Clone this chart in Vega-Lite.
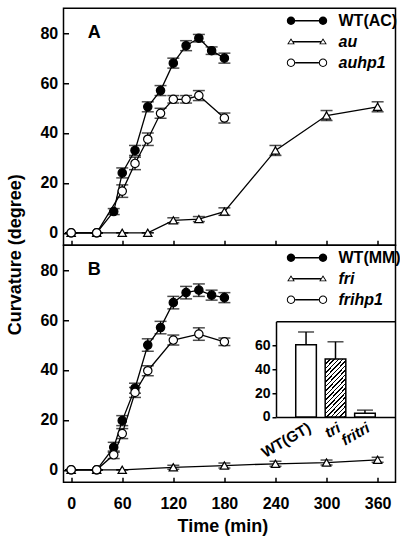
{
 "$schema": "https://vega.github.io/schema/vega-lite/v6.json",
 "padding": {"left": 5.5, "top": 7.25, "right": 0, "bottom": 0},
 "config": {
  "font": "Liberation Sans",
  "view": {"stroke": "black", "strokeWidth": 1.5},
  "axis": {"grid": false, "domain": false, "tickColor": "black", "tickWidth": 1.5, "labelColor": "black", "labelFontWeight": "bold", "titleColor": "black", "titleFontWeight": "bold", "domainColor": "black", "domainWidth": 1.5}
 },
 "datasets": {
  "series": [
   {"p":"A","g":"WT(AC)","t":0,"v":0,"e":0},{"p":"A","g":"WT(AC)","t":30,"v":0,"e":0},{"p":"A","g":"WT(AC)","t":50,"v":8.5,"e":1.2},{"p":"A","g":"WT(AC)","t":60,"v":24,"e":2},{"p":"A","g":"WT(AC)","t":75,"v":33,"e":2},{"p":"A","g":"WT(AC)","t":90,"v":50.5,"e":2},{"p":"A","g":"WT(AC)","t":105,"v":57,"e":2},{"p":"A","g":"WT(AC)","t":120,"v":68,"e":2},{"p":"A","g":"WT(AC)","t":135,"v":75,"e":2},{"p":"A","g":"WT(AC)","t":150,"v":78,"e":1.5},{"p":"A","g":"WT(AC)","t":165,"v":73,"e":1.5},{"p":"A","g":"WT(AC)","t":180,"v":70,"e":2},
   {"p":"A","g":"au","t":0,"v":0,"e":0},{"p":"A","g":"au","t":30,"v":0,"e":0},{"p":"A","g":"au","t":60,"v":0,"e":0},{"p":"A","g":"au","t":90,"v":0,"e":0},{"p":"A","g":"au","t":120,"v":5,"e":1},{"p":"A","g":"au","t":150,"v":5.5,"e":1},{"p":"A","g":"au","t":180,"v":8.5,"e":1.5},{"p":"A","g":"au","t":240,"v":33,"e":2},{"p":"A","g":"au","t":300,"v":47,"e":2},{"p":"A","g":"au","t":360,"v":50.5,"e":2},
   {"p":"A","g":"auhp1","t":0,"v":0,"e":0},{"p":"A","g":"auhp1","t":30,"v":0,"e":0},{"p":"A","g":"auhp1","t":60,"v":16.7,"e":2.5},{"p":"A","g":"auhp1","t":75,"v":27.8,"e":2.5},{"p":"A","g":"auhp1","t":90,"v":37.5,"e":2.5},{"p":"A","g":"auhp1","t":105,"v":47.9,"e":2},{"p":"A","g":"auhp1","t":120,"v":53.5,"e":1.5},{"p":"A","g":"auhp1","t":135,"v":53.5,"e":1.5},{"p":"A","g":"auhp1","t":150,"v":55,"e":2},{"p":"A","g":"auhp1","t":180,"v":46,"e":2},
   {"p":"B","g":"WT(MM)","t":0,"v":0,"e":0},{"p":"B","g":"WT(MM)","t":30,"v":0,"e":0},{"p":"B","g":"WT(MM)","t":50,"v":9,"e":2},{"p":"B","g":"WT(MM)","t":60,"v":19.7,"e":2},{"p":"B","g":"WT(MM)","t":75,"v":32.7,"e":2},{"p":"B","g":"WT(MM)","t":90,"v":50,"e":2.5},{"p":"B","g":"WT(MM)","t":105,"v":57,"e":2.5},{"p":"B","g":"WT(MM)","t":120,"v":67,"e":2.5},{"p":"B","g":"WT(MM)","t":135,"v":71,"e":2.5},{"p":"B","g":"WT(MM)","t":150,"v":72,"e":2.5},{"p":"B","g":"WT(MM)","t":165,"v":70,"e":2},{"p":"B","g":"WT(MM)","t":180,"v":69,"e":2},
   {"p":"B","g":"fri","t":0,"v":0,"e":0},{"p":"B","g":"fri","t":30,"v":0,"e":0},{"p":"B","g":"fri","t":60,"v":0,"e":0},{"p":"B","g":"fri","t":120,"v":1,"e":0.8},{"p":"B","g":"fri","t":180,"v":1.7,"e":1},{"p":"B","g":"fri","t":240,"v":2.4,"e":1},{"p":"B","g":"fri","t":300,"v":2.9,"e":1},{"p":"B","g":"fri","t":360,"v":4,"e":1},
   {"p":"B","g":"frihp1","t":0,"v":0,"e":0},{"p":"B","g":"frihp1","t":30,"v":0,"e":0},{"p":"B","g":"frihp1","t":50,"v":6,"e":1.5},{"p":"B","g":"frihp1","t":60,"v":14.5,"e":2},{"p":"B","g":"frihp1","t":75,"v":31,"e":2},{"p":"B","g":"frihp1","t":90,"v":39.7,"e":2},{"p":"B","g":"frihp1","t":120,"v":52,"e":2},{"p":"B","g":"frihp1","t":150,"v":54.4,"e":2.5},{"p":"B","g":"frihp1","t":180,"v":51.3,"e":1.5}
  ],
  "inset": [
   {"g":"WT(GT)","v":60.5,"e":10.6},
   {"g":"tri","v":48.5,"e":14.4},
   {"g":"fritri","v":3,"e":2.7}
  ]
 },
 "spacing": 0,
 "bounds": "flush",
 "resolve": {"scale": {"shape": "independent", "fill": "independent"}},
 "vconcat": [
  {
   "width": 332, "height": 237,
   "data": {"name": "series"},
   "encoding": {
    "x": {"field": "t", "type": "quantitative", "scale": {"domain": [-9, 381], "nice": false, "zero": false},
          "axis": {"values": [0,60,120,180,240,300,360], "labels": false, "tickSize": -5, "title": null}},
    "y": {"field": "v", "type": "quantitative", "scale": {"domain": [-5, 90], "nice": false, "zero": false},
          "axis": {"values": [0,20,40,60,80], "tickSize": -5, "labelPadding": 10.8, "labelFontSize": 16, "title": null}}
   },
   "layer": [
    {"transform": [{"filter": "datum.p === 'A'"}], "mark": {"type": "line", "color": "black", "strokeWidth": 1.3}, "encoding": {"detail": {"field": "g", "type": "nominal"}}},
    {"transform": [{"filter": "datum.p === 'A'"}], "mark": {"type": "errorbar", "color": "black", "ticks": {"size": 12, "thickness": 1.5}, "rule": {"strokeWidth": 1.3}}, "encoding": {"yError": {"field": "e"}}},
    {"transform": [{"filter": "datum.p === 'A'"}], "mark": {"type": "point", "filled": true, "stroke": "black", "strokeWidth": 1.2, "opacity": 1, "size": 70},
     "encoding": {
      "shape": {"field": "g", "type": "nominal", "scale": {"domain": ["WT(AC)","au","auhp1"], "range": ["circle","triangle-up","circle"]}, "legend": null},
      "fill": {"field": "g", "type": "nominal", "scale": {"domain": ["WT(AC)","au","auhp1"], "range": ["black","white","white"]}, "legend": null}
     }},
    {"transform": [{"filter": "false"}], "mark": {"type": "point", "filled": true, "color": "black", "opacity": 1, "strokeWidth": 0},
     "encoding": {
      "shape": {"field": "g", "type": "nominal",
       "scale": {"domain": ["WT(AC)","au","auhp1"], "range": [
        "M-5.05,0A1.05,1.05,0,1,1,-2.95,0A1.05,1.05,0,1,1,-5.05,0ZM2.95,0A1.05,1.05,0,1,1,5.05,0A1.05,1.05,0,1,1,2.95,0ZM-3,-0.16L3,-0.16L3,0.16L-3,0.16Z",
        "M-4,-0.85L-3.05,0.65L-4.95,0.65ZM-4,-0.42L-4.58,0.45L-3.42,0.45ZM4,-0.85L4.95,0.65L3.05,0.65ZM4,-0.42L3.42,0.45L4.58,0.45ZM-3.46,-0.16L3.46,-0.16L3.46,0.16L-3.46,0.16Z",
        "M-5.05,0A1.05,1.05,0,1,1,-2.95,0A1.05,1.05,0,1,1,-5.05,0ZM-4.8,0A0.8,0.8,0,1,0,-3.2,0A0.8,0.8,0,1,0,-4.8,0ZM2.95,0A1.05,1.05,0,1,1,5.05,0A1.05,1.05,0,1,1,2.95,0ZM3.2,0A0.8,0.8,0,1,0,4.8,0A0.8,0.8,0,1,0,3.2,0ZM-2.95,-0.16L2.95,-0.16L2.95,0.16L-2.95,0.16Z"
       ]},
       "legend": {"orient": "none", "legendX": 235.5, "legendY": 4.5, "title": null, "symbolSize": 64, "symbolStrokeWidth": 0, "symbolFillColor": "black",
                  "labelFontSize": 16, "labelFontWeight": "bold", "labelColor": "black", "labelFontStyle": {"expr": "datum.value === 'WT(AC)' ? 'normal' : 'italic'"},
                  "labelOffset": 23.5, "rowPadding": 5, "labelLimit": 200, "padding": 0}}
     }},
    {"transform": [{"filter": "datum.p === 'A' && datum.g === 'WT(AC)' && datum.t === 0"}],
     "mark": {"type": "text", "text": "A", "fontSize": 18, "fontWeight": "bold", "fill": "black", "align": "center", "baseline": "middle"},
     "encoding": {"x": {"datum": 27}, "y": {"datum": 80}}}
   ],
   "resolve": {"scale": {"shape": "independent"}}
  },
  {
   "width": 332, "height": 237,
   "layer": [
    {
     "data": {"name": "series"},
     "encoding": {
      "x": {"field": "t", "type": "quantitative", "scale": {"domain": [-9, 381], "nice": false, "zero": false},
            "axis": {"orient": "bottom", "values": [0,60,120,180,240,300,360], "tickSize": -5, "labelPadding": 18.6, "labelFontSize": 16,
                     "title": "Time (min)", "titleFontSize": 18, "titleX": 158.8, "titleY": 49.7, "titleAlign": "center", "titleBaseline": "alphabetic"}},
      "y": {"field": "v", "type": "quantitative", "scale": {"domain": [-5, 90], "nice": false, "zero": false},
            "axis": {"orient": "left", "values": [0,20,40,60,80], "tickSize": -5, "labelPadding": 10.8, "labelFontSize": 16,
                     "title": "Curvature (degree)", "titleFontSize": 18, "titleX": -48, "titleY": 9, "titleAngle": -90, "titleAlign": "center", "titleBaseline": "middle"}}
     },
     "layer": [
      {"transform": [{"filter": "datum.p === 'B'"}], "mark": {"type": "line", "color": "black", "strokeWidth": 1.3}, "encoding": {"detail": {"field": "g", "type": "nominal"}}},
      {"transform": [{"filter": "datum.p === 'B'"}], "mark": {"type": "errorbar", "color": "black", "ticks": {"size": 12, "thickness": 1.5}, "rule": {"strokeWidth": 1.3}}, "encoding": {"yError": {"field": "e"}}},
      {"transform": [{"filter": "datum.p === 'B'"}], "mark": {"type": "point", "filled": true, "stroke": "black", "strokeWidth": 1.2, "opacity": 1, "size": 70},
       "encoding": {
        "shape": {"field": "g", "type": "nominal", "scale": {"domain": ["WT(MM)","fri","frihp1"], "range": ["circle","triangle-up","circle"]}, "legend": null},
        "fill": {"field": "g", "type": "nominal", "scale": {"domain": ["WT(MM)","fri","frihp1"], "range": ["black","white","white"]}, "legend": null}
       }},
      {"transform": [{"filter": "false"}], "mark": {"type": "point", "filled": true, "color": "black", "opacity": 1, "strokeWidth": 0},
       "encoding": {
        "shape": {"field": "g", "type": "nominal",
         "scale": {"domain": ["WT(MM)","fri","frihp1"], "range": [
          "M-5.05,0A1.05,1.05,0,1,1,-2.95,0A1.05,1.05,0,1,1,-5.05,0ZM2.95,0A1.05,1.05,0,1,1,5.05,0A1.05,1.05,0,1,1,2.95,0ZM-3,-0.16L3,-0.16L3,0.16L-3,0.16Z",
          "M-4,-0.85L-3.05,0.65L-4.95,0.65ZM-4,-0.42L-4.58,0.45L-3.42,0.45ZM4,-0.85L4.95,0.65L3.05,0.65ZM4,-0.42L3.42,0.45L4.58,0.45ZM-3.46,-0.16L3.46,-0.16L3.46,0.16L-3.46,0.16Z",
          "M-5.05,0A1.05,1.05,0,1,1,-2.95,0A1.05,1.05,0,1,1,-5.05,0ZM-4.8,0A0.8,0.8,0,1,0,-3.2,0A0.8,0.8,0,1,0,-4.8,0ZM2.95,0A1.05,1.05,0,1,1,5.05,0A1.05,1.05,0,1,1,2.95,0ZM3.2,0A0.8,0.8,0,1,0,4.8,0A0.8,0.8,0,1,0,3.2,0ZM-2.95,-0.16L2.95,-0.16L2.95,0.16L-2.95,0.16Z"
         ]},
         "legend": {"orient": "none", "legendX": 235.5, "legendY": 4.5, "title": null, "symbolSize": 64, "symbolStrokeWidth": 0, "symbolFillColor": "black",
                    "labelFontSize": 16, "labelFontWeight": "bold", "labelColor": "black", "labelFontStyle": {"expr": "datum.value === 'WT(MM)' ? 'normal' : 'italic'"},
                    "labelOffset": 23.5, "rowPadding": 5, "labelLimit": 200, "padding": 0}}
       }},
      {"transform": [{"filter": "datum.p === 'B' && datum.g === 'WT(MM)' && datum.t === 0"}],
       "mark": {"type": "text", "text": "B", "fontSize": 18, "fontWeight": "bold", "fill": "black", "align": "center", "baseline": "middle"},
       "encoding": {"x": {"datum": 27}, "y": {"datum": 80}}}
     ],
     "resolve": {"scale": {"shape": "independent"}}
    },
    {
     "data": {"name": "inset"},
     "encoding": {
      "x": {"field": "g", "type": "nominal", "sort": ["WT(GT)","tri","fritri"],
            "scale": {"domain": ["WT(GT)","tri","fritri"], "range": [212.5, 331.5], "paddingInner": 0.3, "paddingOuter": 0.67},
            "axis": {"orient": "bottom", "offset": -65.3, "ticks": false, "domain": true, "labelAngle": -30, "labelFontSize": 15, "labelPadding": 3,
                     "labelFontStyle": {"condition": {"test": "datum.value === 'WT(GT)'", "value": "normal"}, "value": "italic"}, "title": null}},
      "y": {"field": "v", "type": "quantitative", "scale": {"domain": [0, 80], "range": [171.7, 76.1], "nice": false},
            "axis": {"orient": "left", "offset": -212.5, "values": [0,20,40,60], "tickSize": 4, "domain": true, "labelFontSize": 14, "labelPadding": 2, "title": null}}
     },
     "layer": [
      {"mark": {"type": "errorbar", "color": "black", "ticks": {"size": 16, "thickness": 1.5}, "rule": {"strokeWidth": 1.5}}, "encoding": {"yError": {"field": "e"}}},
      {"transform": [{"filter": "datum.g !== 'tri'"}], "mark": {"type": "bar", "fill": "white", "stroke": "black", "strokeWidth": 1.5},
       "encoding": {"x": {"field": "g", "type": "nominal", "sort": ["WT(GT)","tri","fritri"],
            "scale": {"domain": ["WT(GT)","tri","fritri"], "range": [212.5, 331.5], "paddingInner": 0.3, "paddingOuter": 0.67},
            "axis": {"orient": "top", "offset": -76.1, "ticks": false, "labels": false, "domain": true, "title": null}}}},
      {"transform": [{"filter": "datum.g === 'tri'"}], "mark": {"type": "bar", "stroke": "black", "strokeWidth": 1.5,
        "fill": {"gradient": "linear", "x1": 0, "y1": 0, "x2": 0.45, "y2": 1.2, "stops": [
         {"offset":0,"color":"black"},{"offset":0.02,"color":"black"},{"offset":0.02,"color":"white"},{"offset":0.057,"color":"white"},
         {"offset":0.057,"color":"black"},{"offset":0.077,"color":"black"},{"offset":0.077,"color":"white"},{"offset":0.114,"color":"white"},
         {"offset":0.114,"color":"black"},{"offset":0.134,"color":"black"},{"offset":0.134,"color":"white"},{"offset":0.171,"color":"white"},
         {"offset":0.171,"color":"black"},{"offset":0.191,"color":"black"},{"offset":0.191,"color":"white"},{"offset":0.228,"color":"white"},
         {"offset":0.228,"color":"black"},{"offset":0.248,"color":"black"},{"offset":0.248,"color":"white"},{"offset":0.285,"color":"white"},
         {"offset":0.285,"color":"black"},{"offset":0.305,"color":"black"},{"offset":0.305,"color":"white"},{"offset":0.342,"color":"white"},
         {"offset":0.342,"color":"black"},{"offset":0.362,"color":"black"},{"offset":0.362,"color":"white"},{"offset":0.399,"color":"white"},
         {"offset":0.399,"color":"black"},{"offset":0.419,"color":"black"},{"offset":0.419,"color":"white"},{"offset":0.456,"color":"white"},
         {"offset":0.456,"color":"black"},{"offset":0.476,"color":"black"},{"offset":0.476,"color":"white"},{"offset":0.513,"color":"white"},
         {"offset":0.513,"color":"black"},{"offset":0.533,"color":"black"},{"offset":0.533,"color":"white"},{"offset":0.57,"color":"white"},
         {"offset":0.57,"color":"black"},{"offset":0.59,"color":"black"},{"offset":0.59,"color":"white"},{"offset":0.627,"color":"white"},
         {"offset":0.627,"color":"black"},{"offset":0.647,"color":"black"},{"offset":0.647,"color":"white"},{"offset":0.684,"color":"white"},
         {"offset":0.684,"color":"black"},{"offset":0.704,"color":"black"},{"offset":0.704,"color":"white"},{"offset":0.741,"color":"white"},
         {"offset":0.741,"color":"black"},{"offset":0.761,"color":"black"},{"offset":0.761,"color":"white"},{"offset":0.798,"color":"white"},
         {"offset":0.798,"color":"black"},{"offset":0.818,"color":"black"},{"offset":0.818,"color":"white"},{"offset":0.855,"color":"white"},
         {"offset":0.855,"color":"black"},{"offset":0.875,"color":"black"},{"offset":0.875,"color":"white"},{"offset":0.912,"color":"white"},
         {"offset":0.912,"color":"black"},{"offset":0.932,"color":"black"},{"offset":0.932,"color":"white"},{"offset":0.969,"color":"white"},
         {"offset":0.969,"color":"black"},{"offset":0.989,"color":"black"},{"offset":0.989,"color":"white"},{"offset":1,"color":"white"}]}},
       "encoding": {"x": {"field": "g", "type": "nominal", "sort": ["WT(GT)","tri","fritri"],
            "scale": {"domain": ["WT(GT)","tri","fritri"], "range": [212.5, 331.5], "paddingInner": 0.3, "paddingOuter": 0.67},
            "axis": null}}}
     ],
     "resolve": {"axis": {"x": "independent"}}
    }
   ],
   "resolve": {"scale": {"x": "independent", "y": "independent"}}
  }
 ]
}
